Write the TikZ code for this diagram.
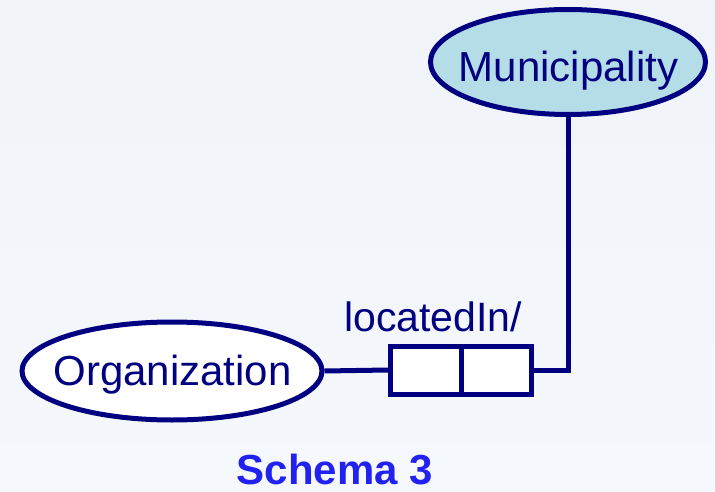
\documentclass[tikz,border=0pt]{standalone}
\usepackage{fontspec}
\setmainfont{Liberation Sans}
\usetikzlibrary{shapes.geometric}
\definecolor{navy}{RGB}{0,0,128}
\definecolor{paleblue}{RGB}{180,221,232}
\definecolor{titleblue}{RGB}{34,34,240}
\definecolor{bgtop}{RGB}{240,243,248}
\definecolor{bgbottom}{RGB}{245,248,252}
\tikzset{
  entity/.style={ellipse, draw=navy, line width=5pt, inner sep=0pt},
  cellbox/.style={rectangle, draw=navy, fill=white, line width=5pt, inner sep=0pt,
    minimum width=70.5pt, minimum height=48pt},
  link/.style={draw=navy, line width=5pt},
  lbl/.style={text=navy, font=\fontsize{42}{48}\selectfont, inner sep=0pt, anchor=base},
}
\begin{document}
\begin{tikzpicture}[x=1pt, y=-1pt]
  % page frame with soft background
  \shade[top color=bgtop, bottom color=bgbottom] (0,0) rectangle (715,492);
  \useasboundingbox (0,0) rectangle (715,492);

  % entities
  \node[entity, fill=paleblue, minimum width=275pt, minimum height=105pt] (mun) at (568,62) {};
  \node[lbl] (munlbl) at (568.5,82) {Municipality};
  \node[entity, fill=white, minimum width=300pt, minimum height=98pt] (org) at (172,371) {};
  \node[lbl] (orglbl) at (172.5,385) {Organization};

  % relationship cells
  \node[cellbox] (cellA) at (425.75,370) {};
  \node[cellbox] (cellB) at (496.25,370) {};
  \node[lbl, font=\fontsize{41}{48}\selectfont] (rel) at (433,331) {locatedIn/};

  % connectors
  \draw[link] (org.east) -- (cellA.west);
  \draw[link] (cellB.east) -| (mun.south);

  % caption
  \node[lbl, text=titleblue, font=\bfseries\fontsize{42}{48}\selectfont] (cap) at (335,484) {Schema 3};
\end{tikzpicture}
\end{document}
